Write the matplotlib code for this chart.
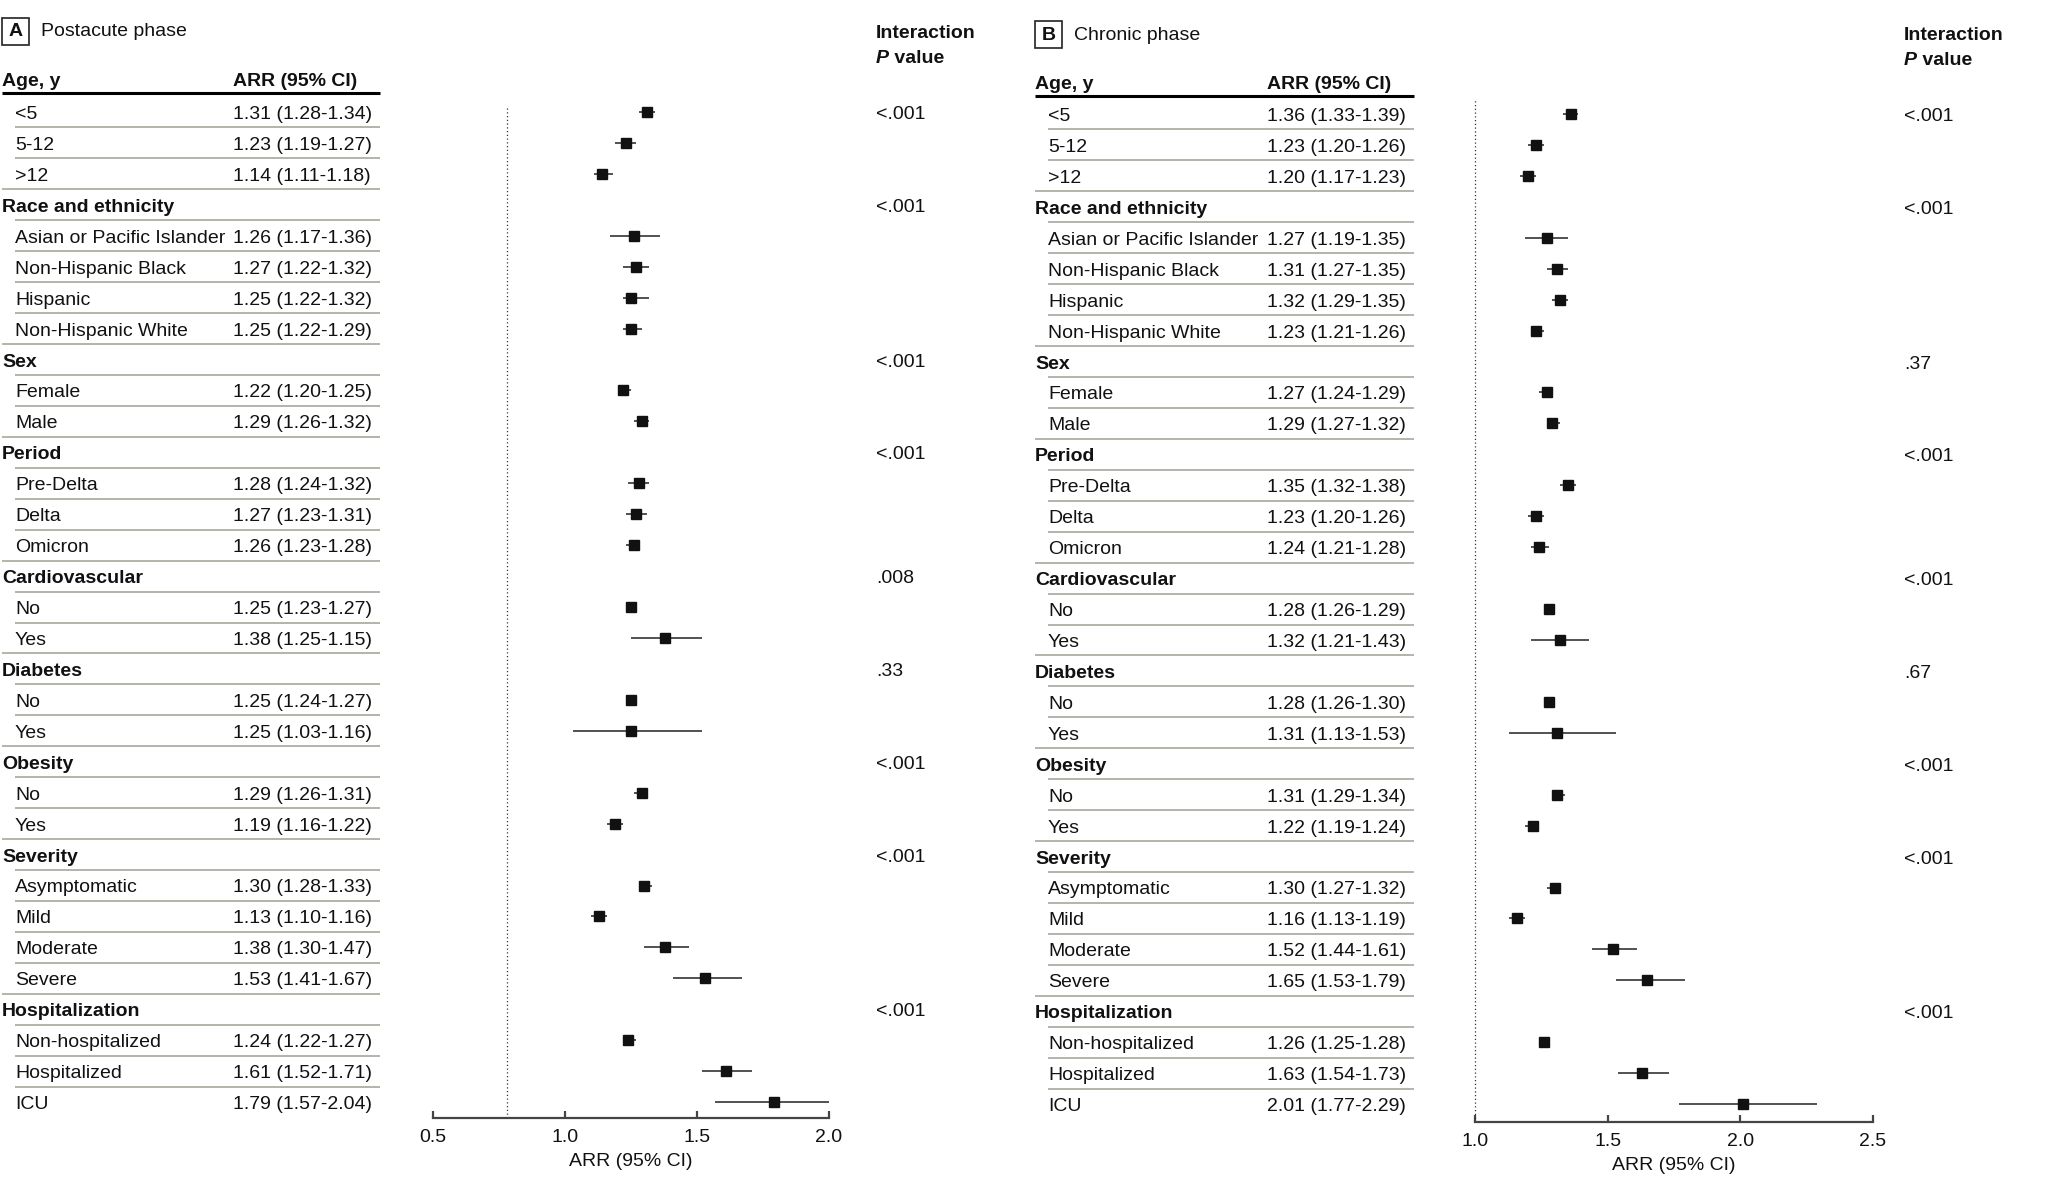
import numpy as np
import matplotlib.pyplot as plt
from matplotlib.patches import Rectangle

plt.rcParams['font.family'] = ['Liberation Sans', 'DejaVu Sans']

nan = np.nan

# rows shared by both panels
labels = ['<5', '5-12', '>12',
          'Race and ethnicity', 'Asian or Pacific Islander', 'Non-Hispanic Black', 'Hispanic', 'Non-Hispanic White',
          'Sex', 'Female', 'Male',
          'Period', 'Pre-Delta', 'Delta', 'Omicron',
          'Cardiovascular', 'No', 'Yes',
          'Diabetes', 'No', 'Yes',
          'Obesity', 'No', 'Yes',
          'Severity', 'Asymptomatic', 'Mild', 'Moderate', 'Severe',
          'Hospitalization', 'Non-hospitalized', 'Hospitalized', 'ICU']
headers = ['Race and ethnicity', 'Sex', 'Period', 'Cardiovascular', 'Diabetes',
           'Obesity', 'Severity', 'Hospitalization']
p_rows = [0, 3, 8, 11, 15, 18, 21, 24, 29]

# A: postacute phase
est_a = [1.31, 1.23, 1.14, nan, 1.26, 1.27, 1.25, 1.25, nan, 1.22, 1.29, nan, 1.28, 1.27, 1.26,
         nan, 1.25, 1.38, nan, 1.25, 1.25, nan, 1.29, 1.19, nan, 1.30, 1.13, 1.38, 1.53,
         nan, 1.24, 1.61, 1.79]
lo_a = [1.28, 1.19, 1.11, nan, 1.17, 1.22, 1.22, 1.22, nan, 1.20, 1.26, nan, 1.24, 1.23, 1.23,
        nan, 1.23, 1.25, nan, 1.24, 1.03, nan, 1.26, 1.16, nan, 1.28, 1.10, 1.30, 1.41,
        nan, 1.22, 1.52, 1.57]
hi_a = [1.34, 1.27, 1.18, nan, 1.36, 1.32, 1.32, 1.29, nan, 1.25, 1.32, nan, 1.32, 1.31, 1.28,
        nan, 1.27, 1.52, nan, 1.27, 1.52, nan, 1.31, 1.22, nan, 1.33, 1.16, 1.47, 1.67,
        nan, 1.27, 1.71, 2.04]
text_a = ['1.31 (1.28-1.34)', '1.23 (1.19-1.27)', '1.14 (1.11-1.18)', '',
          '1.26 (1.17-1.36)', '1.27 (1.22-1.32)', '1.25 (1.22-1.32)', '1.25 (1.22-1.29)', '',
          '1.22 (1.20-1.25)', '1.29 (1.26-1.32)', '',
          '1.28 (1.24-1.32)', '1.27 (1.23-1.31)', '1.26 (1.23-1.28)', '',
          '1.25 (1.23-1.27)', '1.38 (1.25-1.15)', '',
          '1.25 (1.24-1.27)', '1.25 (1.03-1.16)', '',
          '1.29 (1.26-1.31)', '1.19 (1.16-1.22)', '',
          '1.30 (1.28-1.33)', '1.13 (1.10-1.16)', '1.38 (1.30-1.47)', '1.53 (1.41-1.67)', '',
          '1.24 (1.22-1.27)', '1.61 (1.52-1.71)', '1.79 (1.57-2.04)']
pvals_a = ['<.001', '<.001', '<.001', '<.001', '.008', '.33', '<.001', '<.001', '<.001']

# B: chronic phase
est_b = [1.36, 1.23, 1.20, nan, 1.27, 1.31, 1.32, 1.23, nan, 1.27, 1.29, nan, 1.35, 1.23, 1.24,
         nan, 1.28, 1.32, nan, 1.28, 1.31, nan, 1.31, 1.22, nan, 1.30, 1.16, 1.52, 1.65,
         nan, 1.26, 1.63, 2.01]
lo_b = [1.33, 1.20, 1.17, nan, 1.19, 1.27, 1.29, 1.21, nan, 1.24, 1.27, nan, 1.32, 1.20, 1.21,
        nan, 1.26, 1.21, nan, 1.26, 1.13, nan, 1.29, 1.19, nan, 1.27, 1.13, 1.44, 1.53,
        nan, 1.25, 1.54, 1.77]
hi_b = [1.39, 1.26, 1.23, nan, 1.35, 1.35, 1.35, 1.26, nan, 1.29, 1.32, nan, 1.38, 1.26, 1.28,
        nan, 1.29, 1.43, nan, 1.30, 1.53, nan, 1.34, 1.24, nan, 1.32, 1.19, 1.61, 1.79,
        nan, 1.28, 1.73, 2.29]
text_b = ['1.36 (1.33-1.39)', '1.23 (1.20-1.26)', '1.20 (1.17-1.23)', '',
          '1.27 (1.19-1.35)', '1.31 (1.27-1.35)', '1.32 (1.29-1.35)', '1.23 (1.21-1.26)', '',
          '1.27 (1.24-1.29)', '1.29 (1.27-1.32)', '',
          '1.35 (1.32-1.38)', '1.23 (1.20-1.26)', '1.24 (1.21-1.28)', '',
          '1.28 (1.26-1.29)', '1.32 (1.21-1.43)', '',
          '1.28 (1.26-1.30)', '1.31 (1.13-1.53)', '',
          '1.31 (1.29-1.34)', '1.22 (1.19-1.24)', '',
          '1.30 (1.27-1.32)', '1.16 (1.13-1.19)', '1.52 (1.44-1.61)', '1.65 (1.53-1.79)', '',
          '1.26 (1.25-1.28)', '1.63 (1.54-1.73)', '2.01 (1.77-2.29)']
pvals_b = ['<.001', '<.001', '.37', '<.001', '<.001', '.67', '<.001', '<.001', '<.001']

W, H = 2048, 1192
PITCH = 30.94
FS = 14
GRID = '#b3b3aa'
INK = '#111111'

fig = plt.figure(figsize=(W / 100, H / 100), dpi=100)
bg = fig.add_axes([0, 0, 1, 1])
bg.set_xlim(0, W)
bg.set_ylim(H, 0)
bg.axis('off')


def draw_panel(letter, title, est, lo, hi, texts, pvals, x0, x_sub, x_val, x_end, x_p,
               row0, y_head, y_rule, y_int, box_y, title_x, ax_x, ax_top, ax_bot,
               xlim, ref, ticks):
    # panel letter box + title
    bg.add_patch(Rectangle((x0, box_y), 27, 27, fill=False, lw=1.2, ec='#222222'))
    bg.text(x0 + 13.5, box_y + 14, letter, fontsize=FS, fontweight='bold',
            ha='center', va='center', color=INK)
    bg.text(title_x, box_y + 14, title, fontsize=FS, ha='left', va='center', color=INK)

    # interaction column heading
    bg.text(x_p, y_int + 7, 'Interaction', fontsize=FS, fontweight='bold', va='baseline', color=INK)
    pt = bg.text(x_p, y_int + 32, 'P', fontsize=FS, fontweight='bold', fontstyle='italic',
                 va='baseline', color=INK)
    bg.annotate(' value', xy=(1, 0), xycoords=pt, fontsize=FS, fontweight='bold',
                va='bottom', ha='left', color=INK)

    # table heading
    bg.text(x0, y_head + 7, 'Age, y', fontsize=FS, fontweight='bold', va='baseline', color=INK)
    bg.text(x_val, y_head + 7, 'ARR (95% CI)', fontsize=FS, fontweight='bold', va='baseline', color=INK)
    bg.plot([x0, x_end], [y_rule, y_rule], color='black', lw=2.2, solid_capstyle='butt')

    n = len(labels)
    for i, lab in enumerate(labels):
        y = row0 + i * PITCH
        head = lab in headers
        bg.text(x0 if head else x_sub, y + 7, lab, fontsize=FS,
                fontweight='bold' if head else 'normal', va='baseline', color=INK)
        if texts[i]:
            bg.text(x_val, y + 7, texts[i], fontsize=FS, va='baseline', color=INK)
        if i < n - 1:
            nxt_head = labels[i + 1] in headers
            bg.plot([x0 if nxt_head else x_sub, x_end], [y + PITCH / 2] * 2,
                    color=GRID, lw=1.4, solid_capstyle='butt')
    for r, p in zip(p_rows, pvals):
        bg.text(x_p, row0 + r * PITCH + 7, p, fontsize=FS, va='baseline', color=INK)

    # forest plot
    ax = fig.add_axes([ax_x[0] / W, 1 - ax_bot / H, (ax_x[1] - ax_x[0]) / W, (ax_bot - ax_top) / H])
    rows = np.arange(n)
    r_bot = (ax_bot - row0) / PITCH
    r_top = (ax_top - row0) / PITCH
    ax.set_xlim(*xlim)
    ax.set_ylim(r_bot, r_top)
    ax.patch.set_visible(False)
    ax.axvline(ref, color='#333333', lw=0.9, ls=(0, (1, 2)), clip_on=False)
    ax.hlines(rows, lo, hi, color='#222222', lw=1.1)
    ax.plot(est, rows, 's', color=INK, ms=6.5, ls='none')
    for s in ['top', 'right', 'left']:
        ax.spines[s].set_visible(False)
    ax.spines['bottom'].set_color('#444444')
    ax.spines['bottom'].set_linewidth(1.6)
    ax.set_yticks([])
    ax.set_xticks(ticks)
    ax.set_xticklabels([f'{t:.1f}' for t in ticks])
    ax.tick_params(axis='x', direction='in', length=5, width=1.6, color='#444444',
                   labelsize=FS, labelcolor=INK, pad=8)
    ax.set_xlabel('ARR (95% CI)', fontsize=FS, color=INK, labelpad=5)
    return ax


draw_panel('A', 'Postacute phase', est_a, lo_a, hi_a, text_a, pvals_a,
           x0=2, x_sub=15, x_val=233, x_end=380, x_p=876,
           row0=112, y_head=79, y_rule=93, y_int=31, box_y=18, title_x=41,
           ax_x=(433, 829), ax_top=106, ax_bot=1118,
           xlim=(0.5, 2.0), ref=0.78, ticks=[0.5, 1.0, 1.5, 2.0])

draw_panel('B', 'Chronic phase', est_b, lo_b, hi_b, text_b, pvals_b,
           x0=1035, x_sub=1048, x_val=1267, x_end=1414, x_p=1904,
           row0=114, y_head=82, y_rule=96, y_int=33, box_y=21, title_x=1074,
           ax_x=(1475, 1873), ax_top=100, ax_bot=1122,
           xlim=(1.0, 2.5), ref=1.0, ticks=[1.0, 1.5, 2.0, 2.5])

fig.savefig('out.png', dpi=100, facecolor='white')
